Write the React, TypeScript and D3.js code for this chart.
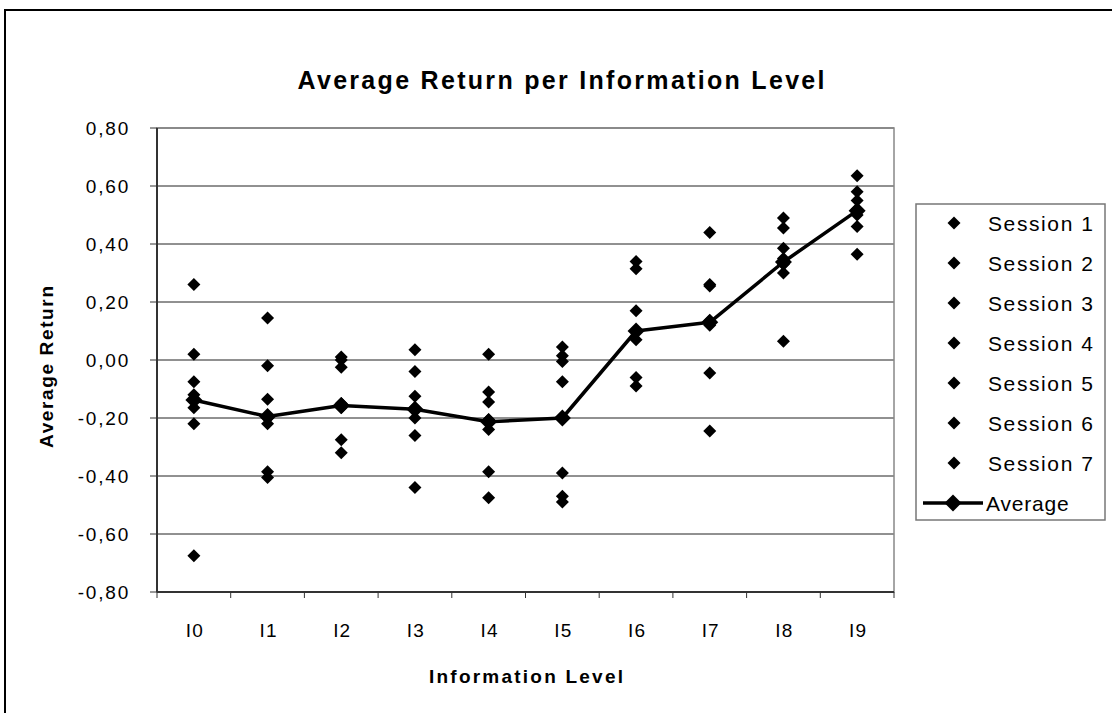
import React from "react";
import * as d3 from "d3";

const categories = ["I0", "I1", "I2", "I3", "I4", "I5", "I6", "I7", "I8", "I9"];

const session1 = [0.26, 0.145, 0.01, 0.035, 0.02, 0.045, 0.34, 0.44, 0.49, 0.635];
const session2 = [0.02, -0.02, 0.0, -0.04, -0.11, 0.015, 0.315, 0.26, 0.455, 0.58];
const session3 = [-0.075, -0.135, -0.025, -0.125, -0.145, -0.005, 0.17, 0.255, 0.385, 0.55];
const session4 = [-0.12, -0.2, -0.15, -0.165, -0.205, -0.075, 0.1, 0.135, 0.35, 0.52];
const session5 = [-0.165, -0.22, -0.165, -0.2, -0.24, -0.39, 0.07, 0.12, 0.33, 0.5];
const session6 = [-0.22, -0.385, -0.275, -0.26, -0.385, -0.47, -0.06, -0.045, 0.3, 0.46];
const session7 = [-0.675, -0.405, -0.32, -0.44, -0.475, -0.49, -0.09, -0.245, 0.065, 0.365];
const average = [-0.138, -0.195, -0.157, -0.17, -0.213, -0.2, 0.1, 0.13, 0.338, 0.515];

const sessions = [session1, session2, session3, session4, session5, session6, session7];
const sessionNames = ["Session 1", "Session 2", "Session 3", "Session 4", "Session 5", "Session 6", "Session 7"];
const yTicks = [0.8, 0.6, 0.4, 0.2, 0, -0.2, -0.4, -0.6, -0.8];

const W = 1112;
const H = 713;
const PL = 157, PR = 894, PT = 128, PB = 592;
const FONT = "'Liberation Sans', Arial, sans-serif";

function diamond(cx: number, cy: number, r: number) {
  return `M${cx},${cy - r}L${cx + r},${cy}L${cx},${cy + r}L${cx - r},${cy}Z`;
}

export default function App() {
  const x = d3.scaleBand<string>().domain(categories).range([PL, PR]);
  const y = d3.scaleLinear().domain([-0.8, 0.8]).range([PB, PT]);
  const cx = (c: string) => (x(c) as number) + x.bandwidth() / 2;
  const fmt = (v: number) => d3.format(".2f")(v).replace(".", ",").replace("−", "-");

  const line = d3
    .line<number>()
    .x((_, i) => cx(categories[i]))
    .y((v) => y(v));

  const legX = 916, legY = 204, legW = 189, legH = 316;
  const rowY = (i: number) => 223 + i * 40;

  return (
    <svg width={W} height={H} style={{ position: "absolute", left: 0, top: 0, background: "#fff" }} fontFamily={FONT}>
      <rect x={0} y={0} width={W} height={H} fill="#fff" />
      <rect x={5} y={10} width={1200} height={800} fill="none" stroke="#000" strokeWidth={2} />
      <text x={561} y={89} textAnchor="middle" fontSize={25} fontWeight="bold" textLength={527} lengthAdjust="spacing">
        Average Return per Information Level
      </text>

      {/* gridlines */}
      {yTicks.map((t) => (
        <line key={"g" + t} x1={PL} x2={PR} y1={y(t)} y2={y(t)} stroke="#222" strokeWidth={1} />
      ))}
      <rect x={PL} y={PT} width={PR - PL} height={PB - PT} fill="none" stroke="#888" strokeWidth={1.5} />
      {/* axes */}
      <line x1={PL} x2={PL} y1={PT} y2={PB} stroke="#333" strokeWidth={2} />
      <line x1={PL} x2={PR} y1={PB} y2={PB} stroke="#333" strokeWidth={2} />
      {yTicks.map((t) => (
        <g key={"yt" + t}>
          <line x1={PL - 7} x2={PL} y1={y(t)} y2={y(t)} stroke="#333" strokeWidth={1} />
          <text x={130} y={y(t) + 7} textAnchor="end" fontSize={19} letterSpacing={1.8}>
            {fmt(t)}
          </text>
        </g>
      ))}
      {categories.map((c) => (
        <line key={"xt" + c} x1={x(c) as number} x2={x(c) as number} y1={PB} y2={PB + 6} stroke="#333" strokeWidth={1} />
      ))}
      <line x1={PR} x2={PR} y1={PB} y2={PB + 6} stroke="#333" strokeWidth={1} />
      {categories.map((c) => (
        <text key={"xl" + c} x={cx(c) + 1} y={637} textAnchor="middle" fontSize={19} letterSpacing={1.2}>
          {c}
        </text>
      ))}
      <text x={526} y={683} textAnchor="middle" fontSize={19} fontWeight="bold" textLength={194} lengthAdjust="spacing">
        Information Level
      </text>
      <text transform={`translate(53,367) rotate(-90)`} textAnchor="middle" fontSize={19} fontWeight="bold" textLength={162} lengthAdjust="spacing">
        Average Return
      </text>

      {/* session points */}
      {sessions.map((s, si) =>
        s.map((v, i) => <path key={`s${si}-${i}`} d={diamond(cx(categories[i]), y(v), 6.5)} fill="#000" />)
      )}
      {/* average */}
      <path d={line(average) || ""} fill="none" stroke="#000" strokeWidth={3.5} strokeLinejoin="round" />
      {average.map((v, i) => (
        <path key={"a" + i} d={diamond(cx(categories[i]), y(v), 8.5)} fill="#000" />
      ))}

      {/* legend */}
      <rect x={legX} y={legY} width={legW} height={legH} fill="#fff" stroke="#777" strokeWidth={1.5} />
      {sessionNames.map((n, i) => (
        <g key={n}>
          <path d={diamond(954, rowY(i), 6.5)} fill="#000" />
          <text x={988} y={rowY(i) + 8} fontSize={21} letterSpacing={1.6}>
            {n}
          </text>
        </g>
      ))}
      <line x1={923} x2={983} y1={rowY(7)} y2={rowY(7)} stroke="#000" strokeWidth={3.5} />
      <path d={diamond(953, rowY(7), 8.5)} fill="#000" />
      <text x={986} y={rowY(7) + 8} fontSize={21} letterSpacing={0.8}>
        Average
      </text>
    </svg>
  );
}
